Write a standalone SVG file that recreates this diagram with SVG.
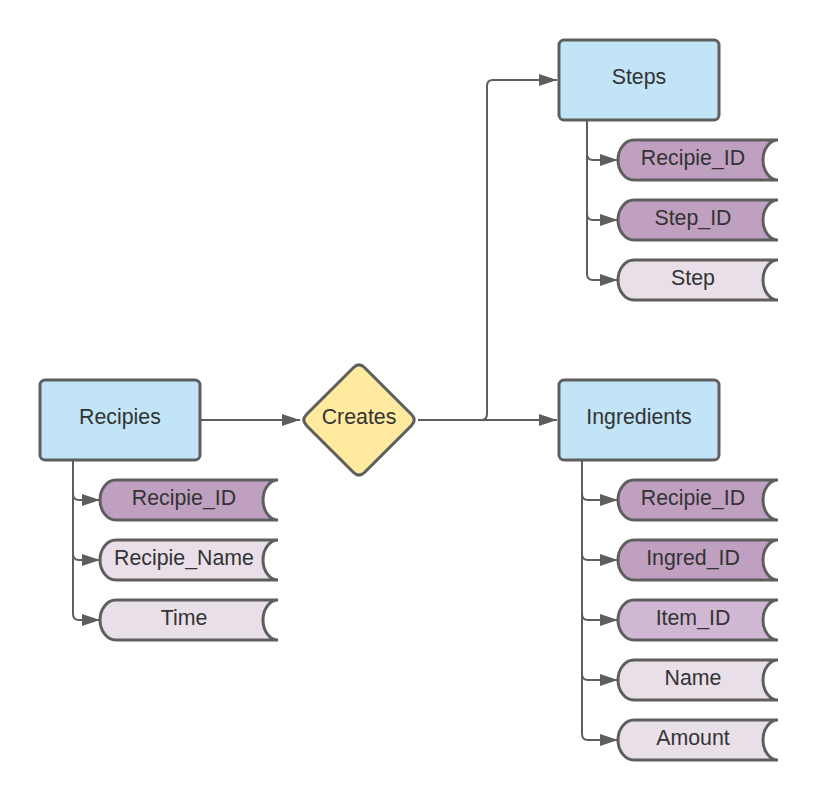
<svg xmlns="http://www.w3.org/2000/svg" width="820" height="800" viewBox="0 0 820 800">
<defs>
<marker id="arr" markerUnits="userSpaceOnUse" markerWidth="18" markerHeight="12" refX="18" refY="6" orient="auto">
<path d="M0,0 L18,6 L0,12 Z" fill="#5e5e5e"/>
</marker>
<style>
.ent{fill:#c1e4f7;stroke:#5e5e5e;stroke-width:3}
.rel{fill:#ffeaa0;stroke:#5e5e5e;stroke-width:3}
.key{fill:#c0a0c0;stroke:#5e5e5e;stroke-width:3}
.fk{fill:#d0b8d4;stroke:#5e5e5e;stroke-width:3}
.att{fill:#e9dfe9;stroke:#5e5e5e;stroke-width:3}
.con{fill:none;stroke:#5e5e5e;stroke-width:2;marker-end:url(#arr)}
text{font-family:"Liberation Sans",Arial,sans-serif;font-size:21.33px;fill:#333333;text-anchor:middle}
</style>
</defs>
<rect width="820" height="800" fill="#ffffff"/>
<g id="connectors">
<path class="con" d="M200,420 H300"/>
<path class="con" d="M418,420 H557"/>
<path class="con" d="M418,420 H481 Q487,420 487,414 V86 Q487,80 493,80 H557"/>
<path class="con" d="M73,460 V494 Q73,500 79,500 H100"/>
<path class="con" d="M73,460 V554 Q73,560 79,560 H100"/>
<path class="con" d="M73,460 V614 Q73,620 79,620 H100"/>
<path class="con" d="M587,120 V154 Q587,160 593,160 H618"/>
<path class="con" d="M587,120 V214 Q587,220 593,220 H618"/>
<path class="con" d="M587,120 V274 Q587,280 593,280 H618"/>
<path class="con" d="M582,460 V494 Q582,500 588,500 H618"/>
<path class="con" d="M582,460 V554 Q582,560 588,560 H618"/>
<path class="con" d="M582,460 V614 Q582,620 588,620 H618"/>
<path class="con" d="M582,460 V674 Q582,680 588,680 H618"/>
<path class="con" d="M582,460 V734 Q582,740 588,740 H618"/>
</g>
<g id="recipies">
<rect class="ent" x="40" y="380" width="160" height="80" rx="5"/>
<text x="120" y="424">Recipies</text>
</g>
<g id="creates">
<path class="rel" d="M364.7,367.7 L411.3,414.3 Q417,420 411.3,425.7 L364.7,472.3 Q359,478 353.3,472.3 L306.7,425.7 Q301,420 306.7,414.3 L353.3,367.7 Q359,362 364.7,367.7 Z"/>
<text x="359" y="424">Creates</text>
</g>
<g id="steps">
<rect class="ent" x="559" y="40" width="160" height="80" rx="5"/>
<text x="639" y="84">Steps</text>
</g>
<g id="ingredients">
<rect class="ent" x="559" y="380" width="160" height="80" rx="5"/>
<text x="639" y="424">Ingredients</text>
</g>
<g id="r_recipie_id">
<path class="key" d="M116,480 H278 A15,20 0 0 0 278,520 H116 A16,20 0 0 1 116,480 Z"/>
<text x="184" y="505">Recipie_ID</text>
</g>
<g id="r_recipie_name">
<path class="att" d="M116,540 H278 A15,20 0 0 0 278,580 H116 A16,20 0 0 1 116,540 Z"/>
<text x="184" y="565">Recipie_Name</text>
</g>
<g id="r_time">
<path class="att" d="M116,600 H278 A15,20 0 0 0 278,640 H116 A16,20 0 0 1 116,600 Z"/>
<text x="184" y="625">Time</text>
</g>
<g id="s_recipie_id">
<path class="key" d="M634,140 H778 A15,20 0 0 0 778,180 H634 A16,20 0 0 1 634,140 Z"/>
<text x="693" y="165">Recipie_ID</text>
</g>
<g id="s_step_id">
<path class="key" d="M634,200 H778 A15,20 0 0 0 778,240 H634 A16,20 0 0 1 634,200 Z"/>
<text x="693" y="225">Step_ID</text>
</g>
<g id="s_step">
<path class="att" d="M634,260 H778 A15,20 0 0 0 778,300 H634 A16,20 0 0 1 634,260 Z"/>
<text x="693" y="285">Step</text>
</g>
<g id="i_recipie_id">
<path class="key" d="M634,480 H778 A15,20 0 0 0 778,520 H634 A16,20 0 0 1 634,480 Z"/>
<text x="693" y="505">Recipie_ID</text>
</g>
<g id="i_ingred_id">
<path class="key" d="M634,540 H778 A15,20 0 0 0 778,580 H634 A16,20 0 0 1 634,540 Z"/>
<text x="693" y="565">Ingred_ID</text>
</g>
<g id="i_item_id">
<path class="fk" d="M634,600 H778 A15,20 0 0 0 778,640 H634 A16,20 0 0 1 634,600 Z"/>
<text x="693" y="625">Item_ID</text>
</g>
<g id="i_name">
<path class="att" d="M634,660 H778 A15,20 0 0 0 778,700 H634 A16,20 0 0 1 634,660 Z"/>
<text x="693" y="685">Name</text>
</g>
<g id="i_amount">
<path class="att" d="M634,720 H778 A15,20 0 0 0 778,760 H634 A16,20 0 0 1 634,720 Z"/>
<text x="693" y="745">Amount</text>
</g>
</svg>
